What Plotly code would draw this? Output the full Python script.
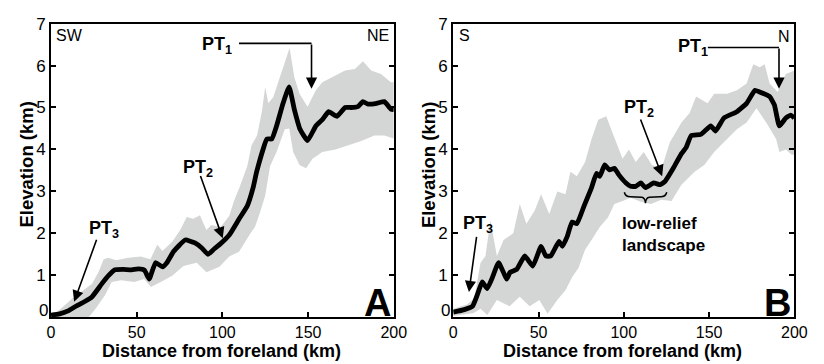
import plotly.graph_objects as go

# ---------------- Panel A (SW -> NE) ----------------
a_mean_d = [0, 5, 10, 14.5, 20, 24, 29.7, 33.5, 37.3, 42, 47, 51, 54.5, 57.3, 61, 65, 67.6,
            71.6, 78.3, 84, 88, 91.6, 95, 98.3, 104, 109.7, 114.5, 118, 120, 126, 128.8,
            131.6, 135.4, 138.9, 142, 145.3, 149.7, 154.5, 158.3, 162, 166.8, 171.6, 175,
            179, 182, 185, 190, 194.5, 198.3, 200]
a_mean_e = [0.05, 0.08, 0.15, 0.26, 0.38, 0.49, 0.8, 0.99, 1.13, 1.14, 1.13, 1.15, 1.12,
            0.91, 1.3, 1.2, 1.3, 1.57, 1.84, 1.77, 1.65, 1.5, 1.62, 1.73, 1.96, 2.34, 2.65,
            3.1, 3.47, 4.25, 4.25, 4.56, 5.1, 5.49, 4.95, 4.48, 4.21, 4.56, 4.71, 4.9, 4.79,
            5.0, 5.0, 5.02, 5.14, 5.08, 5.1, 5.14, 4.96, 4.95]
a_up_d = [0, 5, 12.6, 18, 24, 28, 30.7, 33.5, 38, 45, 52.4, 58, 62, 65, 70.7, 75.4, 79.2,
          83, 86.9, 90.7, 93.5, 99, 104, 107, 110, 114.5, 117, 120.2, 123, 125, 126.8,
          129.7, 133.5, 136.5, 139.2, 142, 145, 149.7, 154.5, 158.3, 164, 171.6, 177.3,
          182, 186.8, 192.5, 198.3, 200]
a_up_e = [0.05, 0.18, 0.45, 0.62, 0.8, 1.1, 1.38, 1.42, 1.36, 1.42, 1.45, 1.38, 1.73, 1.58,
          1.8, 2.08, 2.39, 2.35, 2.43, 2.08, 2.2, 2.15, 2.42, 2.8, 3.1, 3.6, 4.1, 4.33, 4.9,
          5.49, 5.1, 5.25, 5.72, 6.1, 6.42, 5.72, 5.33, 5.02, 5.41, 5.6, 5.72, 5.88, 5.92,
          6.1, 5.88, 5.8, 5.6, 5.6]
a_lo_d = [0, 10, 15, 22, 26, 31.6, 35.4, 41, 48.6, 54.3, 58.3, 64, 70.7, 77.3, 85, 90.7,
          98.3, 104, 109.7, 116.4, 119, 122, 125, 127.8, 131.6, 136.4, 139, 141.3, 145,
          148.8, 152.6, 158.3, 166, 173.5, 181, 188.7, 194.5, 200]
a_lo_e = [0, 0, 0, 0, 0.2, 0.53, 0.84, 0.88, 0.84, 0.91, 0.72, 0.84, 0.99, 1.22, 1.3, 1.07,
          1.2, 1.45, 1.56, 2.0, 2.15, 2.5, 2.9, 3.6, 3.94, 4.48, 4.5, 3.94, 3.63, 3.55, 3.78,
          3.94, 4.0, 4.1, 4.2, 4.33, 4.33, 4.26]

# ---------------- Panel B (S -> N) ----------------
b_mean_d = [0, 6.5, 11.3, 14.1, 17, 19.9, 22.7, 26.6, 31.4, 33.3, 37.2, 41.9, 46.7, 51.5,
            54.3, 57.2, 62, 64, 66.8, 69.7, 72.5, 76.4, 81.1, 84, 85.9, 88.8, 91.6, 94.5,
            97, 101.3, 104, 107, 110, 112.7, 117.5, 121.3, 124.2, 129, 133.8, 136.6, 139.5,
            145.2, 151, 153.8, 158.7, 166.3, 172, 176.9, 179.7, 185.5, 188.3, 191.2, 195,
            197.9, 200]
b_mean_e = [0.12, 0.18, 0.26, 0.53, 0.84, 0.68, 0.92, 1.3, 0.91, 1.07, 1.14, 1.46, 1.22,
            1.69, 1.46, 1.46, 1.81, 1.69, 1.92, 2.27, 2.23, 2.62, 3.09, 3.43, 3.36, 3.63,
            3.51, 3.55, 3.4, 3.2, 3.12, 3.12, 3.2, 3.09, 3.2, 3.16, 3.24, 3.55, 3.9, 4.05,
            4.33, 4.36, 4.56, 4.44, 4.75, 4.9, 5.1, 5.41, 5.37, 5.26, 5.06, 4.56, 4.75, 4.82,
            4.75]
b_up_d = [0, 8, 12.3, 16, 18.9, 21.8, 25.6, 29.5, 35.2, 39, 42.9, 47.7, 51.5, 56.3, 61,
          65.8, 68.7, 72.5, 77.3, 81.1, 85, 89.7, 92.6, 95.5, 99.3, 103, 107, 111.7, 116.5,
          122.2, 127, 133.8, 138.6, 142.4, 149.1, 153, 160.6, 166.3, 172, 175.9, 179.7,
          182.6, 185.5, 190.2, 195, 200]
b_up_e = [0.2, 0.3, 0.45, 1.3, 1.46, 2.31, 1.46, 1.84, 2.0, 2.7, 2.23, 2.54, 2.93, 2.46,
          3.0, 2.93, 3.47, 3.36, 3.7, 4.25, 4.71, 4.79, 4.48, 4.17, 3.78, 4.0, 3.7, 3.94,
          3.63, 3.55, 4.17, 4.64, 4.87, 5.26, 5.1, 5.33, 5.33, 5.41, 5.57, 6.03, 5.96, 6.03,
          5.57, 5.37, 5.8, 5.88]
b_lo_d = [0, 12, 16, 20, 25.6, 33, 39, 44.8, 50.5, 55.3, 61, 65.8, 69.7, 73.5, 77.3, 81.1,
          85.9, 90.7, 94.5, 99.3, 104, 110, 116, 122, 128, 133.8, 141.5, 147.2, 153, 160.6,
          166.3, 172, 177.8, 183.5, 189.3, 191.2, 195, 198.8, 200]
b_lo_e = [0.03, 0.1, 0.2, 0.05, 0.41, 0.26, 0.49, 0.26, 0.41, 0.08, 0.41, 0.64, 0.95, 1.18,
          1.61, 1.84, 2.15, 2.38, 2.7, 2.77, 2.85, 2.75, 2.7, 2.8, 2.77, 3.16, 3.47, 3.63,
          3.94, 4.25, 4.48, 4.64, 4.98, 4.64, 4.25, 3.94, 4.0, 3.86, 3.9]

x_tick_vals = [0, 50, 100, 150, 200]
x_tick_text = ["0", "50", "100", "150", "200"]
y_tick_vals = [0, 1, 2, 3, 4, 5, 6, 7]
y_tick_text = ["", "1", "2", "3", "4", "5", "6", "7"]
x_title = "Distance from foreland (km)"
y_title = "Elevation (km)"

W, H = 824, 364
FONT = "Liberation Sans, Arial, Helvetica, sans-serif"
BAND = "#d4d6d6"


def px(xp):
    return xp / W


def py(yp):
    return 1 - yp / H


fig = go.Figure()

panels = [
    ("x", "y", a_mean_d, a_mean_e, a_up_d, a_up_e, a_lo_d, a_lo_e),
    ("x2", "y2", b_mean_d, b_mean_e, b_up_d, b_up_e, b_lo_d, b_lo_e),
]
for xa, ya, md, me, ud, ue, ld, le in panels:
    fig.add_trace(go.Scatter(
        x=ud + ld[::-1], y=ue + le[::-1], mode="lines", fill="toself",
        fillcolor=BAND, line=dict(width=0, color=BAND), xaxis=xa, yaxis=ya,
        hoverinfo="skip", showlegend=False))
    fig.add_trace(go.Scatter(
        x=md, y=me, mode="lines",
        line=dict(color="black", width=4.8, shape="spline", smoothing=0.4),
        xaxis=xa, yaxis=ya, showlegend=False))

xcommon = dict(range=[0, 200], tickvals=x_tick_vals, ticktext=x_tick_text,
               ticks="inside", ticklen=5, tickwidth=1.5, tickcolor="black",
               showline=True, linewidth=2, linecolor="black", mirror=True,
               showgrid=False, zeroline=False,
               tickfont=dict(family=FONT, size=16, color="black"))
ycommon = dict(range=[0, 7], tickvals=y_tick_vals, ticktext=y_tick_text,
               ticks="inside", ticklen=5, tickwidth=1.5, tickcolor="black",
               showline=True, linewidth=2, linecolor="black", mirror="ticks",
               showgrid=False, zeroline=False,
               tickfont=dict(family=FONT, size=17, color="black"))

ydom = [py(316), py(15)]
fig.update_layout(
    width=W, height=H, margin=dict(l=0, r=0, t=0, b=0),
    paper_bgcolor="white", plot_bgcolor="white",
    font=dict(family=FONT, color="black"),
    xaxis=dict(domain=[px(48), px(398)], anchor="y", **xcommon),
    yaxis=dict(domain=ydom, anchor="x", **ycommon),
    xaxis2=dict(domain=[px(458.7), px(807)], anchor="y2", **xcommon),
    yaxis2=dict(domain=ydom, anchor="x2", **ycommon),
)

ann = []
shapes = []


def text(x, y, t, size, bold=False, xref="paper", yref="paper", xanchor="center",
         yanchor="middle", align="center", angle=0):
    ann.append(dict(x=x, y=y, xref=xref, yref=yref, text=("<b>%s</b>" % t) if bold else t,
                    showarrow=False, xanchor=xanchor, yanchor=yanchor, align=align,
                    textangle=angle, font=dict(family=FONT, size=size, color="black")))


def arrow(xa, ya, x0, y0, x1, y1):
    ann.append(dict(x=x1, y=y1, ax=x0, ay=y0, xref=xa, yref=ya, axref=xa, ayref=ya,
                    text="", showarrow=True, arrowhead=2, arrowsize=1.4, arrowwidth=1.6,
                    arrowcolor="black", standoff=0, startstandoff=0))


# axis titles and zero labels
for x0, x1 in [(48, 398), (458.7, 807)]:
    text(px((x0 + x1) / 2 - 1), py(351), x_title, 18, bold=True)
    text(px(x0 - 8), py(309), "0", 17)
for xc in [23, 433]:
    text(px(xc), py(160), y_title, 18.5, bold=True, angle=-90)

# corner labels
text(px(66.5), py(27), "SW", 16)
text(px(381.5), py(27), "NE", 16)
text(px(470), py(27), "S", 16)
text(px(796), py(28), "N", 16)

# panel letters
text(px(381), py(301), "A", 38, bold=True)
text(px(790), py(301), "B", 38, bold=True)

# Panel A PT annotations
text(97.1, 6.49, "PT<sub>1</sub>", 18, bold=True, xref="x", yref="y")
shapes.append(dict(type="line", xref="x", yref="y", x0=109.7, x1=152, y0=6.53, y1=6.53,
                   line=dict(color="black", width=1.6)))
arrow("x", "y", 152, 6.54, 152, 5.45)
text(85.8, 3.55, "PT<sub>2</sub>", 18, bold=True, xref="x", yref="y")
arrow("x", "y", 86.9, 3.4, 100.2, 1.88)
text(30.7, 2.08, "PT<sub>3</sub>", 18, bold=True, xref="x", yref="y")
arrow("x", "y", 26.9, 1.88, 13.5, 0.37)

# Panel B PT annotations
text(140.6, 6.42, "PT<sub>1</sub>", 18, bold=True, xref="x2", yref="y2")
shapes.append(dict(type="line", xref="x2", yref="y2", x0=149.3, x1=191, y0=6.43, y1=6.43,
                   line=dict(color="black", width=1.6)))
arrow("x2", "y2", 191, 6.44, 191, 5.45)
text(108.7, 4.98, "PT<sub>2</sub>", 18, bold=True, xref="x2", yref="y2")
arrow("x2", "y2", 109.5, 4.75, 122.5, 3.36)
text(14.4, 2.2, "PT<sub>3</sub>", 18, bold=True, xref="x2", yref="y2")
arrow("x2", "y2", 13.8, 1.95, 9.2, 0.6)

# low-relief landscape brace and label
shapes.append(dict(type="path", xref="x2", yref="y2",
                   path="M 100.3,2.98 Q 101,2.87 104,2.87 L 110.5,2.86 Q 112.5,2.85 112.7,2.72 "
                        "Q 112.9,2.85 115,2.86 L 121.5,2.87 Q 124.5,2.87 125.2,2.98",
                   line=dict(color="black", width=1.5)))
text(px(629), py(231), "low-relief<br>landscape", 17, bold=True, xanchor="left",
     align="left")

fig.update_layout(annotations=ann, shapes=shapes)
fig.write_html("out.html")
